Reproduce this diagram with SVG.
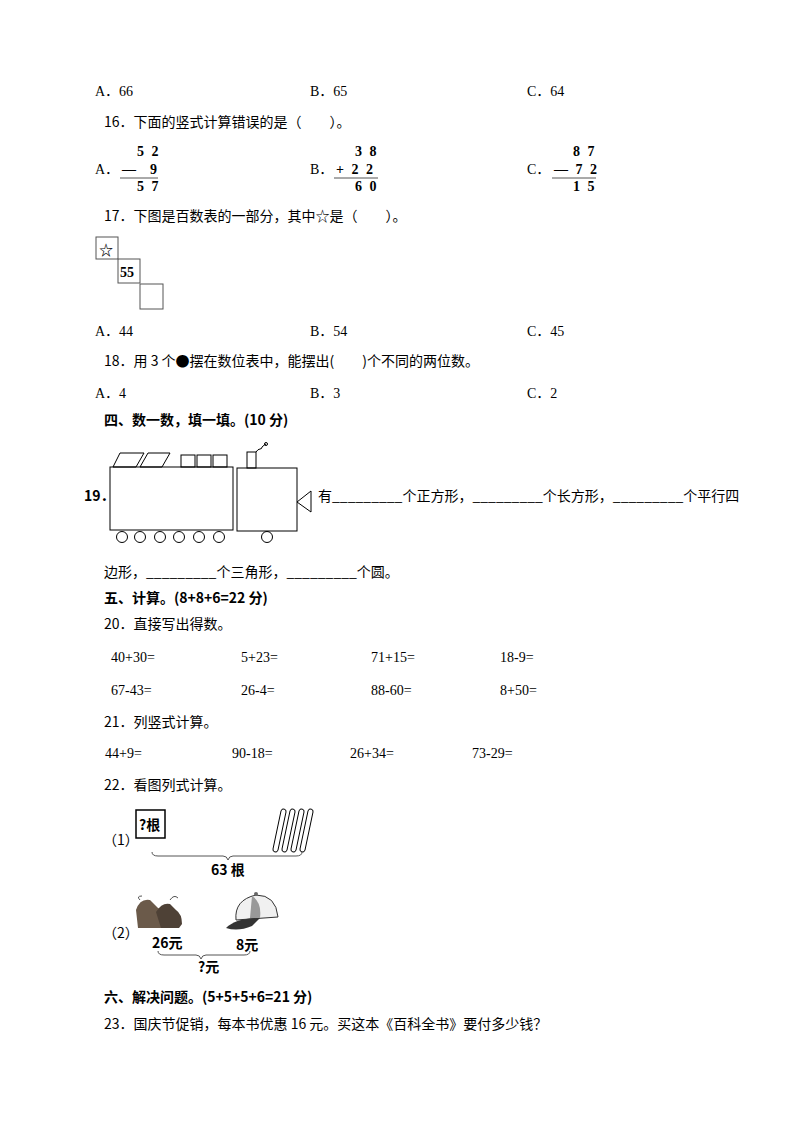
<svg xmlns="http://www.w3.org/2000/svg" width="794" height="1123" viewBox="0 0 794 1123">
<style>
text{font-family:"Liberation Serif","Noto Sans CJK SC",serif;font-size:14px;fill:#000}
.c{font-family:"Noto Sans CJK SC","Liberation Sans",sans-serif}
.b{font-weight:bold}
.s{fill:none;stroke:#000;stroke-width:1}
.g{fill:none;stroke:#555;stroke-width:1}
</style>
<rect width="794" height="1123" fill="#fff"/>
<g id="q15"><text x="95" y="96">A．66</text><text x="310" y="96">B．65</text><text x="527" y="96">C．64</text></g>
<g id="q16">
<text class="c" x="104" y="127">16．下面的竖式计算错误的是（　　）。</text>
<text class="b" x="137" y="156" font-size="13" letter-spacing="2">5 2</text><text x="95" y="174">A．</text><text class="b" x="122" y="174" font-size="13">—　9</text><line class="g" x1="120" y1="178" x2="158" y2="178"/><text class="b" x="137" y="191" font-size="13" letter-spacing="2">5 7</text>
<text class="b" x="355" y="156" font-size="13" letter-spacing="2">3 8</text><text x="310" y="174">B．</text><text class="b" x="336" y="174" font-size="13" letter-spacing="2">+ 2 2</text><line class="g" x1="334" y1="178" x2="378" y2="178"/><text class="b" x="355" y="191" font-size="13" letter-spacing="2">6 0</text>
<text class="b" x="573" y="156" font-size="13" letter-spacing="2">8 7</text><text x="527" y="174">C．</text><text class="b" x="554" y="174" font-size="13" letter-spacing="2">— 7 2</text><line class="g" x1="552" y1="178" x2="596" y2="178"/><text class="b" x="573" y="191" font-size="13" letter-spacing="2">1 5</text>
</g>
<g id="q17">
<text class="c" x="104" y="221">17．下图是百数表的一部分，其中☆是（　　）。</text>
<rect class="g" x="96" y="237" width="22" height="22"/><text class="b" x="99" y="255" font-size="17">☆</text>
<rect class="g" x="118" y="259" width="22" height="24"/><text class="b" x="120" y="277" font-size="13">55</text>
<rect class="g" x="140" y="284" width="23" height="25"/>
<text x="95" y="336">A．44</text><text x="310" y="336">B．54</text><text x="527" y="336">C．45</text>
</g>
<g id="q18">
<text class="c" x="104" y="366">18．用 3 个●摆在数位表中，能摆出(　　)个不同的两位数。</text>
<text x="95" y="398">A．4</text><text x="310" y="398">B．3</text><text x="527" y="398">C．2</text>
</g>
<text class="c b" x="104" y="425">四、数一数，填一填。(10 分)</text>
<g id="q19">
<text class="c b" x="84" y="501">19．</text>
<g class="s">
<rect x="110" y="467" width="123" height="63"/>
<polygon points="113,467 120,453 144,453 136,467"/><polygon points="140,467 148,453 170,453 162,467"/>
<rect x="181" y="455" width="14" height="12"/><rect x="197" y="455" width="14" height="12"/><rect x="213" y="455" width="14" height="12"/>
<circle cx="122" cy="537" r="5.5"/><circle cx="140" cy="537" r="5.5"/><circle cx="160" cy="537" r="5.5"/><circle cx="179" cy="537" r="5.5"/><circle cx="199" cy="537" r="5.5"/><circle cx="219" cy="537" r="5.5"/>
<rect x="237" y="468" width="60" height="63"/>
<rect x="247" y="452" width="9" height="16"/>
<path d="M256,452 q2,-3 4,-3 q2,0 2,-2 q2,-2 4,-3"/><circle cx="266" cy="444" r="1.5"/>
<circle cx="267" cy="537" r="5.5"/>
<polygon points="297,502 311,491 311,512"/>
</g>
<text class="c" x="318" y="501">有_________个正方形，_________个长方形，_________个平行四</text>
<text class="c" x="104" y="577">边形，_________个三角形，_________个圆。</text>
</g>
<text class="c b" x="104" y="603">五、计算。(8+8+6=22 分)</text>
<g id="q20">
<text class="c" x="104" y="629">20．直接写出得数。</text>
<text x="111" y="662">40+30=</text><text x="241" y="662">5+23=</text><text x="371" y="662">71+15=</text><text x="500" y="662">18-9=</text>
<text x="111" y="695">67-43=</text><text x="241" y="695">26-4=</text><text x="371" y="695">88-60=</text><text x="500" y="695">8+50=</text>
</g>
<g id="q21">
<text class="c" x="104" y="727">21．列竖式计算。</text>
<text x="105" y="758">44+9=</text><text x="232" y="758">90-18=</text><text x="350" y="758">26+34=</text><text x="472" y="758">73-29=</text>
</g>
<g id="q22">
<text class="c" x="104" y="790">22．看图列式计算。</text>
<text class="c" x="103" y="845" font-size="13">（1）</text>
<rect x="136" y="810" width="29" height="28" fill="none" stroke="#000" stroke-width="1.5"/>
<text class="c b" x="139" y="830" font-size="13">?根</text>
<g class="s" stroke-width="1.2">
<path d="M273,849 l8,-38 a2,2 0 0 1 5,1 l-8,38 a2,2 0 0 1 -5,-1z"/>
<path d="M282,849 l8,-38 a2,2 0 0 1 5,1 l-8,38 a2,2 0 0 1 -5,-1z"/>
<path d="M291,849 l8,-38 a2,2 0 0 1 5,1 l-8,38 a2,2 0 0 1 -5,-1z"/>
<path d="M300,849 l8,-38 a2,2 0 0 1 5,1 l-8,38 a2,2 0 0 1 -5,-1z"/>
</g>
<path class="g" d="M152,852 q0,4 6,4 h65 q4,0 5,4 q1,-4 5,-4 h63 q6,0 6,-4"/>
<text class="c b" x="211" y="875" font-size="14">63 根</text>
<text class="c" x="103" y="938" font-size="13">（2）</text>
<g id="shoes">
<path d="M136,910 q4,-12 14,-10 l8,8 q12,4 16,14 l-2,6 h-34 z" fill="#6b5a4a"/>
<path d="M156,912 q6,-10 14,-8 l6,6 q6,4 6,14 l-3,4 h-18 z" fill="#4e4136"/>
<path d="M140,900 q-4,-4 2,-4 M170,900 q4,-6 8,-2" class="g"/>
</g>
<g id="cap">
<path d="M236,920 q-2,-20 20,-25 q20,0 22,22 z" fill="#f0f0f0" stroke="#333"/>
<path d="M252,896 q10,6 8,22 l-10,0 z" fill="#999"/>
<path d="M226,928 q10,-10 34,-10 l-8,8 q-14,6 -26,2z" fill="#333"/>
<circle cx="256" cy="894" r="2" fill="#666"/>
</g>
<text class="c b" x="152" y="948" font-size="10">26元</text>
<text class="c b" x="236" y="950" font-size="10">8元</text>
<path class="g" d="M158,951 q0,4 6,4 h32 q4,0 5,4 q1,-4 5,-4 h38 q6,0 6,-4"/>
<text class="c b" x="198" y="972" font-size="10">?元</text>
</g>
<text class="c b" x="104" y="1002">六、解决问题。(5+5+5+6=21 分)</text>
<g id="q23"><text class="c" x="104" y="1029">23．国庆节促销，每本书优惠 16 元。买这本《百科全书》要付多少钱？</text></g>
</svg>
